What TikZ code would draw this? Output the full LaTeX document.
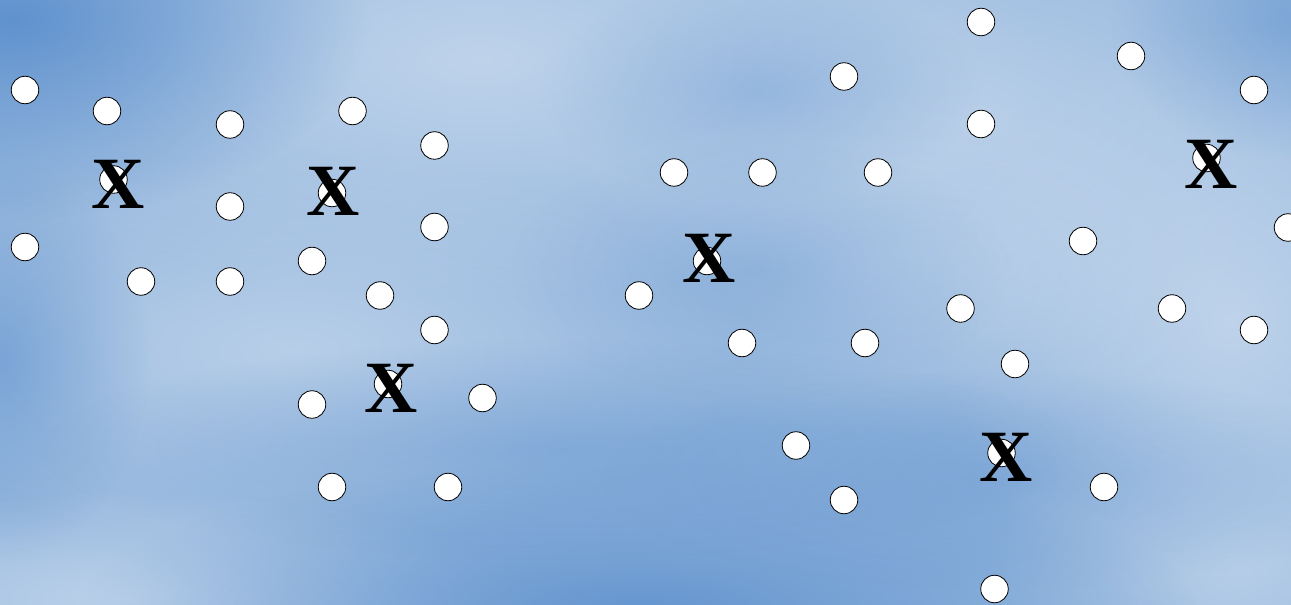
\documentclass[tikz,border=0pt]{standalone}
\usepackage{fontspec}
\newfontfamily\xfont{Liberation Serif}
\usetikzlibrary{fadings}
\tikzfading[name=fuzzy, inner color=transparent!0, outer color=transparent!100]
\definecolor{bgbase}{RGB}{150,184,222}
\definecolor{bglight}{RGB}{198,216,237}
\definecolor{bgdark}{RGB}{96,146,206}
\tikzset{
  dot/.style={circle, draw=black, line width=0.8bp, fill=white, minimum size=27.5bp, inner sep=0pt},
  xmark/.style={inner sep=0pt, font=\xfont\bfseries\fontsize{74}{74}\selectfont, text=black},
}
\begin{document}
\begin{tikzpicture}[x=1bp,y=-1bp]
\useasboundingbox (0,0) rectangle (1291,605);
\fill[bgbase] (0,0) rectangle (1291,605);
\begin{scope}
\clip (0,0) rectangle (1291,605);
% light clouds
\fill[bglight, path fading=fuzzy, opacity=0.85] (480,60) ellipse [x radius=560, y radius=240];
\fill[bglight, path fading=fuzzy, opacity=0.7] (980,120) ellipse [x radius=420, y radius=240];
\fill[bglight, path fading=fuzzy, opacity=0.7] (290,350) ellipse [x radius=460, y radius=200];
\fill[bglight, path fading=fuzzy, opacity=0.85] (1230,320) ellipse [x radius=300, y radius=300];
\fill[bglight, path fading=fuzzy, opacity=0.8] (130,600) ellipse [x radius=400, y radius=110];
\fill[bglight, path fading=fuzzy, opacity=0.5] (900,260) ellipse [x radius=380, y radius=180];
\fill[bglight, path fading=fuzzy, opacity=0.6] (1240,570) ellipse [x radius=260, y radius=200];
% dark clouds
\fill[bgdark, path fading=fuzzy] (10,20) ellipse [x radius=360, y radius=200];
\fill[bgdark, path fading=fuzzy, opacity=0.9] (640,610) ellipse [x radius=560, y radius=150];
\fill[bgdark, path fading=fuzzy, opacity=0.6] (0,360) ellipse [x radius=150, y radius=200];
\fill[bgdark, path fading=fuzzy, opacity=0.45] (560,450) ellipse [x radius=520, y radius=110];
\fill[bgdark, path fading=fuzzy, opacity=0.5] (1291,20) ellipse [x radius=180, y radius=140];
\fill[bgdark, path fading=fuzzy, opacity=0.35] (760,90) ellipse [x radius=220, y radius=110];
\fill[bgdark, path fading=fuzzy, opacity=0.4] (1000,480) ellipse [x radius=400, y radius=110];
\fill[bgdark, path fading=fuzzy, opacity=0.35] (760,270) ellipse [x radius=250, y radius=130];
\end{scope}
% circles
\node[dot] (c1) at (25,90) {};
\node[dot] (c2) at (107,111) {};
\node[dot] (c3) at (230,124.5) {};
\node[dot] (c4) at (352.5,111) {};
\node[dot] (c5) at (434.5,145.5) {};
\node[dot] (c6) at (113.5,179.5) {};
\node[dot] (c7) at (332,193) {};
\node[dot] (c8) at (230,206.5) {};
\node[dot] (c9) at (434.5,227) {};
\node[dot] (c10) at (25,247) {};
\node[dot] (c11) at (141,281.5) {};
\node[dot] (c12) at (230,281.5) {};
\node[dot] (c13) at (312,261) {};
\node[dot] (c14) at (380,295.5) {};
\node[dot] (c15) at (434.5,330) {};
\node[dot] (c16) at (388,384) {};
\node[dot] (c17) at (312,404.5) {};
\node[dot] (c18) at (482.5,398) {};
\node[dot] (c19) at (332,487) {};
\node[dot] (c20) at (448,487) {};
\node[dot] (c21) at (981,22) {};
\node[dot] (c22) at (1131,56) {};
\node[dot] (c23) at (1254,90) {};
\node[dot] (c24) at (844,76.5) {};
\node[dot] (c25) at (981,124) {};
\node[dot] (c26) at (674,172.5) {};
\node[dot] (c27) at (762.5,172.5) {};
\node[dot] (c28) at (878,172.5) {};
\node[dot] (c29) at (1206.5,158) {};
\node[dot] (c30) at (1288,227.5) {};
\node[dot] (c31) at (1083,241) {};
\node[dot] (c32) at (707,261) {};
\node[dot] (c33) at (639,295.5) {};
\node[dot] (c34) at (960.5,308.5) {};
\node[dot] (c35) at (1172,308.5) {};
\node[dot] (c36) at (1254,330) {};
\node[dot] (c37) at (742,343) {};
\node[dot] (c38) at (865,343) {};
\node[dot] (c39) at (1015,364) {};
\node[dot] (c40) at (796,445.5) {};
\node[dot] (c41) at (1001.5,453) {};
\node[dot] (c42) at (1104,487) {};
\node[dot] (c43) at (844,500) {};
\node[dot] (c44) at (994.5,589) {};
% X marks
\node[xmark] (x1) at (118,184.5) {X};
\node[xmark] (x2) at (333,191) {X};
\node[xmark] (x3) at (391,388.5) {X};
\node[xmark] (x4) at (709,258) {X};
\node[xmark] (x5) at (1211,164) {X};
\node[xmark] (x6) at (1006,457.5) {X};
\end{tikzpicture}
\end{document}
